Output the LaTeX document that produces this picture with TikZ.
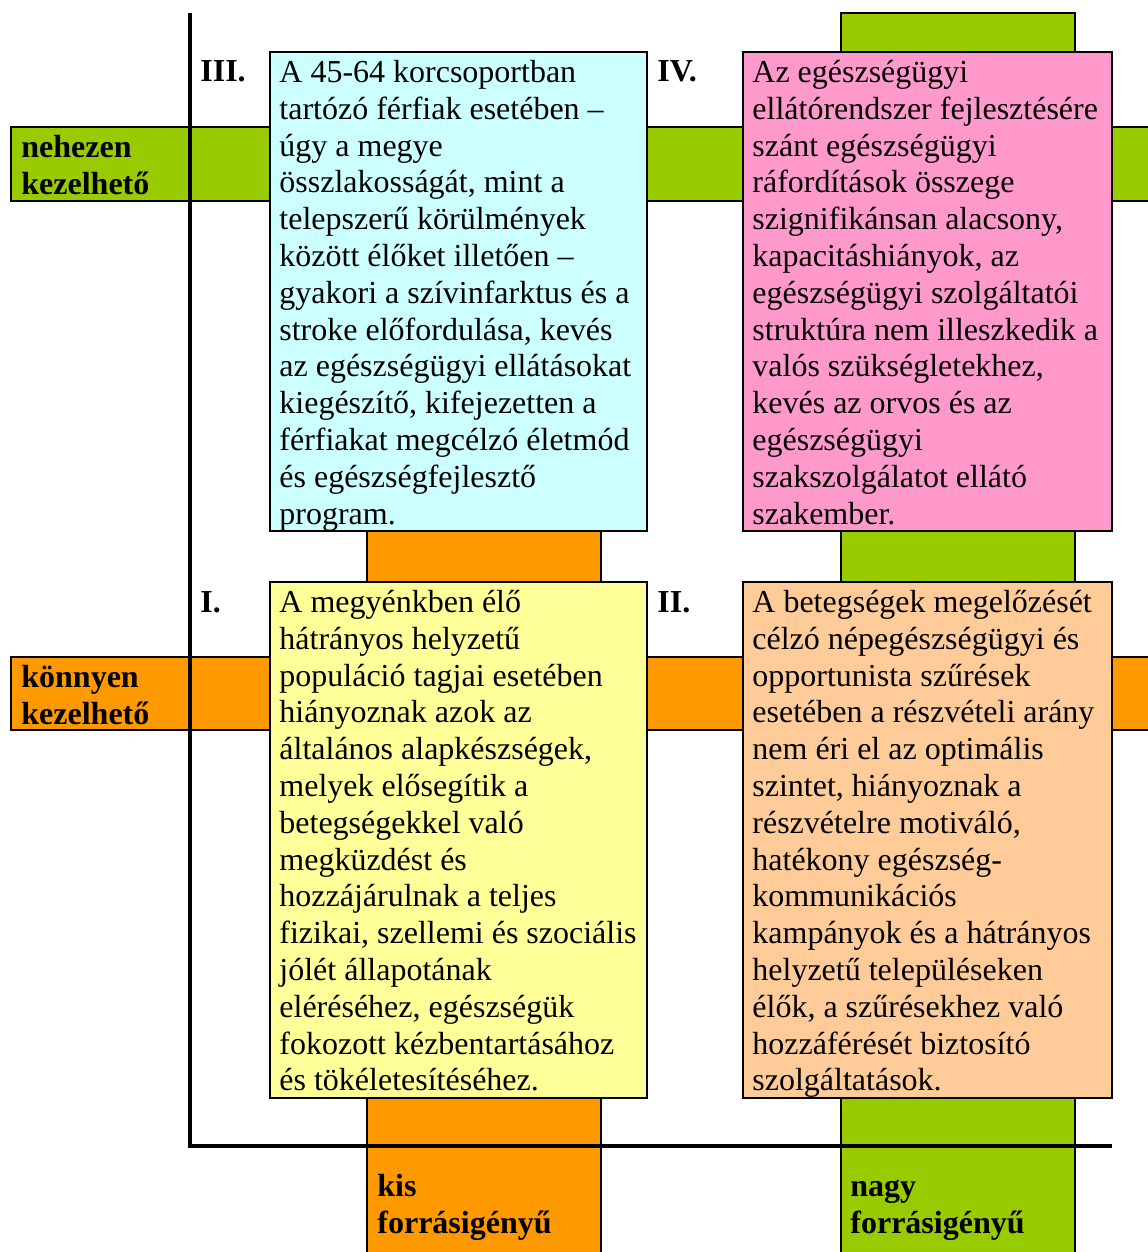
\documentclass[tikz,border=0pt]{standalone}
\usepackage{fontspec}
\setmainfont{Liberation Serif}
\usetikzlibrary{positioning}
\usepackage{xcolor}

\definecolor{leafgreen}{HTML}{99CC00}
\definecolor{deeporange}{HTML}{FF9900}
\definecolor{paleturq}{HTML}{CCFFFF}
\definecolor{palepink}{HTML}{FF99CC}
\definecolor{paleyellow}{HTML}{FFFF99}
\definecolor{palepeach}{HTML}{FFCC99}
\newcommand{\topstrut}{\rule{0pt}{14pt}}

\begin{document}
\begin{tikzpicture}[
        x=0.5pt, y=-0.5pt,
        band/.style={draw=black, line width=0.6pt},
        axis/.style={line width=1.8pt},
        quad/.style={draw, line width=1pt, anchor=north west, inner sep=0pt, outer sep=0pt,
            minimum width=188.5pt},
        quadtext/.style={anchor=north west, inner sep=0pt, align=left,
            font=\fontsize{16}{18.4}\selectfont},
        roman/.style={anchor=base west, inner sep=0pt, font=\fontsize{16}{18.4}\selectfont\bfseries},
        bandlabel/.style={anchor=north west, inner sep=0pt, align=left,
            font=\fontsize{16}{18.4}\selectfont\bfseries}
    ]
        \useasboundingbox (0,0) rectangle (1147,1252);

        % Horizontal bands
        \draw[band, fill=leafgreen] (11,127) rectangle (1160,201);
        \draw[band, fill=deeporange] (11,657) rectangle (1160,730);

        % Vertical bands
        \draw[band, fill=deeporange] (367,480) rectangle (601,1262);
        \draw[band, fill=leafgreen] (841,13) rectangle (1075,1262);

        % Axes
        \draw[axis] (190,13) |- (1112,1146);

        % Quadrant boxes
        \node[quad, fill=paleturq, minimum height=239.5pt] (q3) at (270,52) {};
        \node[quad, fill=palepink, minimum width=184.5pt, minimum height=239.5pt] (q4) at (743,52) {};
        \node[quad, fill=paleyellow, minimum height=258pt] (q1) at (270,582) {};
        \node[quad, fill=palepeach, minimum width=184.5pt, minimum height=258pt] (q2) at (743,582) {};

        % Quadrant texts
        \node[quadtext] (q3text) at ([xshift=4.5pt, yshift=-1pt]q3.north west)
            {\topstrut A 45-64 korcsoportban\\tartózó férfiak esetében –\\úgy a megye\\
             összlakosságát, mint a\\telepszerű körülmények\\között élőket illetően –\\
             gyakori a szívinfarktus és a\\stroke előfordulása, kevés\\
             az egészségügyi ellátásokat\\kiegészítő, kifejezetten a\\
             férfiakat megcélzó életmód\\és egészségfejlesztő\\program.};

        \node[quadtext] (q4text) at ([xshift=4.5pt, yshift=-1pt]q4.north west)
            {\topstrut Az egészségügyi\\ellátórendszer fejlesztésére\\szánt egészségügyi\\
             ráfordítások összege\\szignifikánsan alacsony,\\kapacitáshiányok, az\\
             egészségügyi szolgáltatói\\struktúra nem illeszkedik a\\
             valós szükségletekhez,\\kevés az orvos és az\\egészségügyi\\
             szakszolgálatot ellátó\\szakember.};

        \node[quadtext] (q1text) at ([xshift=4.5pt, yshift=-1pt]q1.north west)
            {\topstrut A megyénkben élő\\hátrányos helyzetű\\populáció tagjai esetében\\
             hiányoznak azok az\\általános alapkészségek,\\melyek elősegítik a\\
             betegségekkel való\\megküzdést és\\hozzájárulnak a teljes\\
             fizikai, szellemi és szociális\\jólét állapotának\\eléréséhez, egészségük\\
             fokozott kézbentartásához\\és tökéletesítéséhez.};

        \node[quadtext] (q2text) at ([xshift=4.5pt, yshift=-1pt]q2.north west)
            {\topstrut A betegségek megelőzését\\célzó népegészségügyi és\\opportunista szűrések\\
             esetében a részvételi arány\\nem éri el az optimális\\szintet, hiányoznak a\\
             részvételre motiváló,\\hatékony egészség-\\kommunikációs\\
             kampányok és a hátrányos\\helyzetű településeken\\élők, a szűrésekhez való\\
             hozzáférését biztosító\\szolgáltatások.};

        % Quadrant numbers
        \node[roman] (n3) at (200,82) {III.};
        \node[roman] (n4) at (657,82) {IV.};
        \node[roman] (n1) at (200,612) {I.};
        \node[roman] (n2) at (657,612) {II.};

        % Band labels
        \node[bandlabel] (hard) at (21,129) {\topstrut nehezen\\kezelhető};
        \node[bandlabel] (easy) at (21,659) {\topstrut könnyen\\kezelhető};
        \node[bandlabel] (lowcost) at (377,1168) {\topstrut kis\\forrásigényű};
        \node[bandlabel] (highcost) at (850,1168) {\topstrut nagy\\forrásigényű};
    \end{tikzpicture}
\end{document}
